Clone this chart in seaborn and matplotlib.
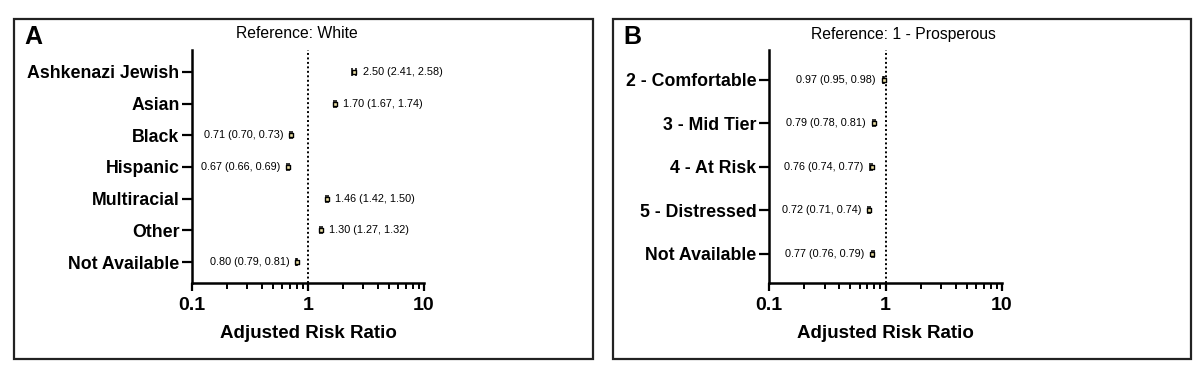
import numpy as np
import pandas as pd
import matplotlib
matplotlib.use("Agg")
import matplotlib.pyplot as plt
from matplotlib.patches import Rectangle
import seaborn as sns

# panel A: race / ethnicity (reference: White)
race_groups = ["Ashkenazi Jewish", "Asian", "Black", "Hispanic",
               "Multiracial", "Other", "Not Available"]
race_rr = [2.50, 1.70, 0.71, 0.67, 1.46, 1.30, 0.80]
race_lo = [2.41, 1.67, 0.70, 0.66, 1.42, 1.27, 0.79]
race_hi = [2.58, 1.74, 0.73, 0.69, 1.50, 1.32, 0.81]

# panel B: distressed communities index (reference: 1 - Prosperous)
dci_groups = ["2 - Comfortable", "3 - Mid Tier", "4 - At Risk",
              "5 - Distressed", "Not Available"]
dci_rr = [0.97, 0.79, 0.76, 0.72, 0.77]
dci_lo = [0.95, 0.78, 0.74, 0.71, 0.76]
dci_hi = [0.98, 0.81, 0.77, 0.74, 0.79]

x_ticks = [0.1, 1, 10]
x_ticklabels = ["0.1", "1", "10"]

sns.set_style("ticks")
plt.rcParams["font.family"] = ["Liberation Sans", "DejaVu Sans"]
for k in ["text.color", "axes.labelcolor", "xtick.color", "ytick.color", "axes.edgecolor"]:
    plt.rcParams[k] = "black"

fig = plt.figure(figsize=(11.99, 3.76), dpi=100)

W, H = 1199, 376


def px_axes(left, right, top, bottom):
    return fig.add_axes([left / W, 1 - bottom / H, (right - left) / W, (bottom - top) / H])


def forest(ax, groups, rr, lo, hi, ylim):
    df = pd.DataFrame({"group": groups, "rr": rr, "lo": lo, "hi": hi})
    ax.set_xscale("log")
    ax.errorbar(df["rr"], df["group"],
                xerr=[df["rr"] - df["lo"], df["hi"] - df["rr"]],
                fmt="none", ecolor="black", elinewidth=1, capsize=2.6, capthick=1.1, zorder=2)
    sns.scatterplot(data=df, x="rr", y="group", marker="s", s=12,
                    color="#efe3a6", edgecolor="black", linewidth=1.0, ax=ax, zorder=3)
    for i, row in df.iterrows():
        lab = f"{row.rr:.2f} ({row.lo:.2f}, {row.hi:.2f})"
        if row.rr > 1:
            ax.annotate(lab, (row.hi, i), xytext=(5, 0), textcoords="offset points",
                        ha="left", va="center", fontsize=7.8)
        else:
            ax.annotate(lab, (row.lo, i), xytext=(-5, 0), textcoords="offset points",
                        ha="right", va="center", fontsize=7.8)
    ax.axvline(1, color="black", ls=(0, (1, 1.3)), lw=1.4, zorder=1)
    ax.set_xlim(0.1, 10)
    ax.set_ylim(*ylim)
    ax.set_xticks(x_ticks)
    ax.set_xticklabels(x_ticklabels, fontsize=14, fontweight="bold")
    ax.xaxis.set_minor_locator(matplotlib.ticker.LogLocator(base=10, subs=np.arange(2, 10)))
    ax.xaxis.set_minor_formatter(matplotlib.ticker.NullFormatter())
    ax.tick_params(axis="x", which="major", length=6, width=1.6, pad=4)
    ax.tick_params(axis="x", which="minor", length=4.5, width=1.4)
    ax.tick_params(axis="y", length=7.5, width=1.6, pad=1.5)
    for t in ax.get_yticklabels():
        t.set_fontsize(12.8)
        t.set_fontweight("bold")
    ax.set_xlabel("Adjusted Risk Ratio", fontsize=13.5, fontweight="bold", labelpad=8)
    ax.set_ylabel("")
    sns.despine(ax=ax)
    for s in ["left", "bottom"]:
        ax.spines[s].set_linewidth(1.8)
    ax.set_facecolor("none")


axA = px_axes(192, 424, 50, 283)
forest(axA, race_groups, race_rr, race_lo, race_hi, (6.66, -0.69))

axB = px_axes(769, 1002, 50, 283)
forest(axB, dci_groups, dci_rr, dci_lo, dci_hi, (4.67, -0.69))

# panel boxes and headings
for x0, x1 in [(14, 593), (613, 1191)]:
    fig.add_artist(Rectangle((x0 / W, 1 - 359 / H), (x1 - x0) / W, (359 - 19) / H,
                             transform=fig.transFigure, fill=False, lw=1.6, ec="#222222"))

fig.text(24 / W, 1 - 37 / H, "A", fontsize=18, fontweight="bold", va="center", ha="left")
fig.text(623 / W, 1 - 37 / H, "B", fontsize=18, fontweight="bold", va="center", ha="left")
fig.text(297 / W, 1 - 34 / H, "Reference: White", fontsize=11.3, va="center", ha="center")
fig.text(903 / W, 1 - 34 / H, "Reference: 1 - Prosperous", fontsize=11.3, va="center", ha="center")

fig.savefig("out.png", dpi=100)
